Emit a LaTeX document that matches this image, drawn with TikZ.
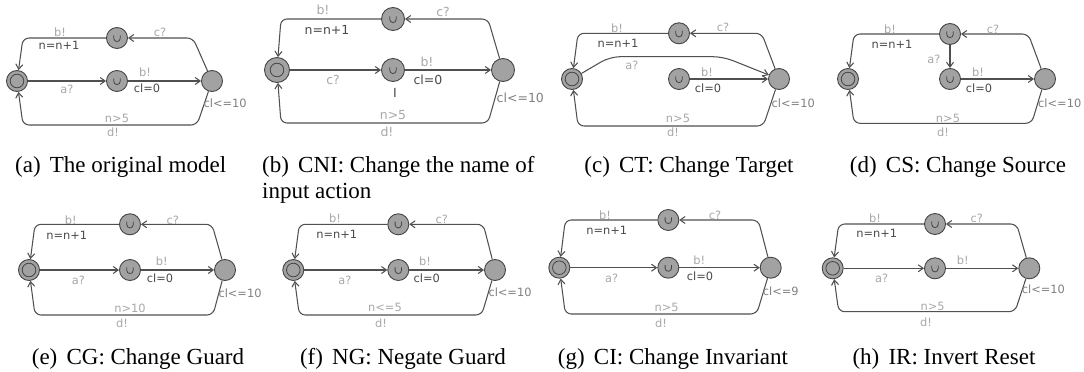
\documentclass[tikz,border=0pt]{standalone}
\usepackage{fontspec}
\setmainfont{Liberation Serif}
\newfontfamily\lblfont{DejaVu Sans}
\usetikzlibrary{arrows.meta}
\definecolor{nfill}{HTML}{A2A2A2}
\definecolor{nline}{HTML}{454545}
\definecolor{eline}{HTML}{505050}
\definecolor{ltxt}{HTML}{A8A8A8}
\definecolor{dtxt}{HTML}{4A4A4A}
\definecolor{itxt}{HTML}{808080}
\tikzset{
  loc/.style={circle, draw=nline, fill=nfill, line width=0.9pt, minimum size=21pt, inner sep=0pt},
  comloc/.style={loc, path picture={\draw[line width=0.8pt, nline] ([xshift=-3.2pt,yshift=2.6pt]path picture bounding box.center) -- ++(0,3) arc[start angle=180,end angle=0,radius=3.2] -- ++(0,-3);}},
  initloc/.style={loc, path picture={\draw[line width=0.8pt, nline] (path picture bounding box.center) circle[radius=6.8];}},
  conn/.style={draw=eline, line width=1.05pt, -{Straight Barb[length=5pt,width=7pt]}, rounded corners=6pt},
  lbl/.style={font=\lblfont\fontsize{11.4}{12}\selectfont, inner sep=0pt},
  lt/.style={lbl, text=ltxt},
  dk/.style={lbl, text=dtxt},
  iv/.style={lbl, text=itxt, anchor=west},
  subcap/.style={font=\fontsize{23}{26}\selectfont, inner sep=0pt, anchor=base},
}
\def\lxoff{6}
% #1 prefix, #2 Ix, #3 Iy, #4 Tx, #5 Ty, #6 Rx, #7 yb, #8 top corner x, #9 bottom corner x
\newcommand\skel[9]{%
  \node[initloc] (#1I) at (#2,#3) {};
  \node[comloc] (#1T) at (#4,#5) {};
  \node[comloc] (#1M) at (#4,#3) {};
  \node[loc] (#1R) at (#6,#3) {};
  \coordinate (#1ca) at (#8,#5);
  \coordinate (#1cb) at (#2+\lxoff,#5);
  \coordinate (#1cc) at (#9,#7);
  \coordinate (#1cd) at (#2+\lxoff,#7);
  \draw[conn] (#1R) -- (#1ca) -- (#1T);
  \draw[conn] (#1T) -- (#1cb) -- (#1I);
  \draw[conn] (#1R) -- (#1cc) -- (#1cd) -- (#1I);
}
\begin{document}
\begin{tikzpicture}[x=1pt,y=-1pt]
\fill[white] (0,0) rectangle (1084,372);
\useasboundingbox (0,0) rectangle (1084,372);

% (a)
\skel{a}{17}{81}{117}{38}{212}{125}{193}{197}
\draw[conn] (aI) -- (aM);
\draw[conn] (aM) -- (aR);
\node[lt] (al1) at (60,32) {b!};
\node[dk] (al2) at (59,45) {n=n+1};
\node[lt] (al3) at (160,32) {c?};
\node[lt] (al4) at (67,89) {a?};
\node[lt] (al5) at (145,72) {b!};
\node[dk] (al6) at (147,88) {cl=0};
\node[iv] (al7) at (203.5,103) {cl<=10};
\node[lt] (al8) at (117,118) {n>5};
\node[lt] (al9) at (113,132) {d!};
\node[subcap, anchor=base west] (acap) at (15,172) {(a)\hspace{0.4em}The original model};

% (b)
\begin{scope}[loc/.append style={minimum size=23pt}, initloc/.append style={minimum size=25pt},
  lbl/.append style={font=\lblfont\fontsize{12.5}{13}\selectfont}]
\def\lxoff{4}
\skel{b}{277}{70}{393}{19}{503}{123}{488}{488}
\draw[conn] (bI) -- (bM);
\draw[conn] (bM) -- (bR);
\node[lt] (bl1) at (323,10) {b!};
\node[dk] (bl2) at (327,30) {n=n+1};
\node[lt] (bl3) at (443,12) {c?};
\node[lt] (bl4) at (333,80) {c?};
\node[lt] (bl5) at (427,62) {b!};
\node[dk] (bl6) at (428,80) {cl=0};
\node[dk] (bl10) at (395,93) {I};
\node[iv] (bl7) at (496.5,98) {cl<=10};
\node[lt] (bl8) at (393,115) {n>5};
\node[lt] (bl9) at (387,132) {d!};
\end{scope}
\node[subcap, anchor=base west] (bcap1) at (262,172) {(b)\hspace{0.4em}CNI: Change the name of};
\node[subcap, anchor=base west] (bcap2) at (262,198) {input action};

% (c)
\skel{c}{572}{79}{679}{33.3}{779}{126}{761.7}{763.3}
\coordinate (ce1) at (610,56.7);
\coordinate (ce2) at (723,56.7);
\draw[conn, rounded corners=10pt] (cI) -- (ce1) -- (ce2) -- (cR);
\draw[conn] (cM) -- (cR);
\node[lt] (cl1) at (617,28) {b!};
\node[dk] (cl2) at (618,43) {n=n+1};
\node[lt] (cl3) at (723,27) {c?};
\node[lt] (cl4) at (632,65) {a?};
\node[lt] (cl5) at (707,72) {b!};
\node[dk] (cl6) at (708,88) {cl=0};
\node[iv] (cl7) at (771.5,103) {cl<=10};
\node[lt] (cl8) at (678,118) {n>5};
\node[lt] (cl9) at (673,132) {d!};
\node[subcap] (ccap) at (689,172) {(c)\hspace{0.4em}CT: Change Target};

% (d)
\skel{d}{848}{79}{950}{34}{1045}{123.3}{1028.3}{1031.7}
\draw[conn] (dT) -- (dM);
\draw[conn] (dM) -- (dR);
\node[lt] (dl1) at (890,29) {b!};
\node[dk] (dl2) at (892,44) {n=n+1};
\node[lt] (dl3) at (993,29) {c?};
\node[lt] (dl4) at (934,59) {a?};
\node[lt] (dl5) at (978,72) {b!};
\node[dk] (dl6) at (979,88) {cl=0};
\node[iv] (dl7) at (1038,103) {cl<=10};
\node[lt] (dl8) at (948,118) {n>5};
\node[lt] (dl9) at (943,132) {d!};
\node[subcap] (dcap) at (958,172) {(d)\hspace{0.4em}CS: Change Source};

% (e)
\skel{e}{29}{270}{130}{224.3}{225}{315}{212}{213}
\draw[conn] (eI) -- (eM);
\draw[conn] (eM) -- (eR);
\node[lt] (el1) at (70.7,220) {b!};
\node[dk] (el2) at (66.7,235) {n=n+1};
\node[lt] (el3) at (172.7,220) {c?};
\node[lt] (el4) at (78.3,280) {a?};
\node[lt] (el5) at (161.7,261.7) {b!};
\node[dk] (el6) at (160,278.3) {cl=0};
\node[iv] (el7) at (218.3,293.3) {cl<=10};
\node[lt] (el8) at (130,308.3) {n>10};
\node[lt] (el9) at (122,323) {d!};
\node[subcap] (ecap) at (138,364) {(e)\hspace{0.4em}CG: Change Guard};

% (f)
\skel{f}{293.3}{270}{398.3}{224.3}{495}{315}{483.3}{481.7}
\draw[conn] (fI) -- (fM);
\draw[conn] (fM) -- (fR);
\node[lt] (fl1) at (335,218.3) {b!};
\node[dk] (fl2) at (336.7,234.3) {n=n+1};
\node[lt] (fl3) at (441.7,219.3) {c?};
\node[lt] (fl4) at (345,280) {a?};
\node[lt] (fl5) at (425,261.7) {b!};
\node[dk] (fl6) at (426.7,278.3) {cl=0};
\node[iv] (fl7) at (488.3,292.7) {cl<=10};
\node[lt] (fl8) at (385,307.3) {n<=5};
\node[lt] (fl9) at (381,323) {d!};
\node[subcap] (fcap) at (403,364) {(f)\hspace{0.4em}NG: Negate Guard};

% (g)
\skel{g}{559.3}{267.7}{668.3}{220}{770.7}{314}{758.3}{756.7}
\draw[conn] (gI) -- (gM);
\draw[conn] (gM) -- (gR);
\node[lt] (gl1) at (605,215) {b!};
\node[dk] (gl2) at (606.7,230) {n=n+1};
\node[lt] (gl3) at (715,215) {c?};
\node[lt] (gl4) at (611.7,278.3) {a?};
\node[lt] (gl5) at (699.3,260) {b!};
\node[dk] (gl6) at (700,276.7) {cl=0};
\node[iv] (gl7) at (762.7,291.7) {cl<=9};
\node[lt] (gl8) at (666.7,307.3) {n>5};
\node[lt] (gl9) at (661,323) {d!};
\node[subcap] (gcap) at (673,364) {(g)\hspace{0.4em}CI: Change Invariant};

% (h)
\skel{h}{832.7}{268.3}{935}{224}{1029.3}{311.7}{1016.7}{1015}
\draw[conn] (hI) -- (hM);
\draw[conn] (hM) -- (hR);
\node[lt] (hl1) at (875,218.3) {b!};
\node[dk] (hl2) at (876.7,233.3) {n=n+1};
\node[lt] (hl3) at (976.7,218.3) {c?};
\node[lt] (hl4) at (881.7,278.3) {a?};
\node[lt] (hl5) at (962.7,260.7) {b!};
\node[iv] (hl7) at (1021.7,289.3) {cl<=10};
\node[lt] (hl8) at (932.7,306.7) {n>5};
\node[lt] (hl9) at (926,322) {d!};
\node[subcap] (hcap) at (944,364) {(h)\hspace{0.4em}IR: Invert Reset};
\end{tikzpicture}
\end{document}
